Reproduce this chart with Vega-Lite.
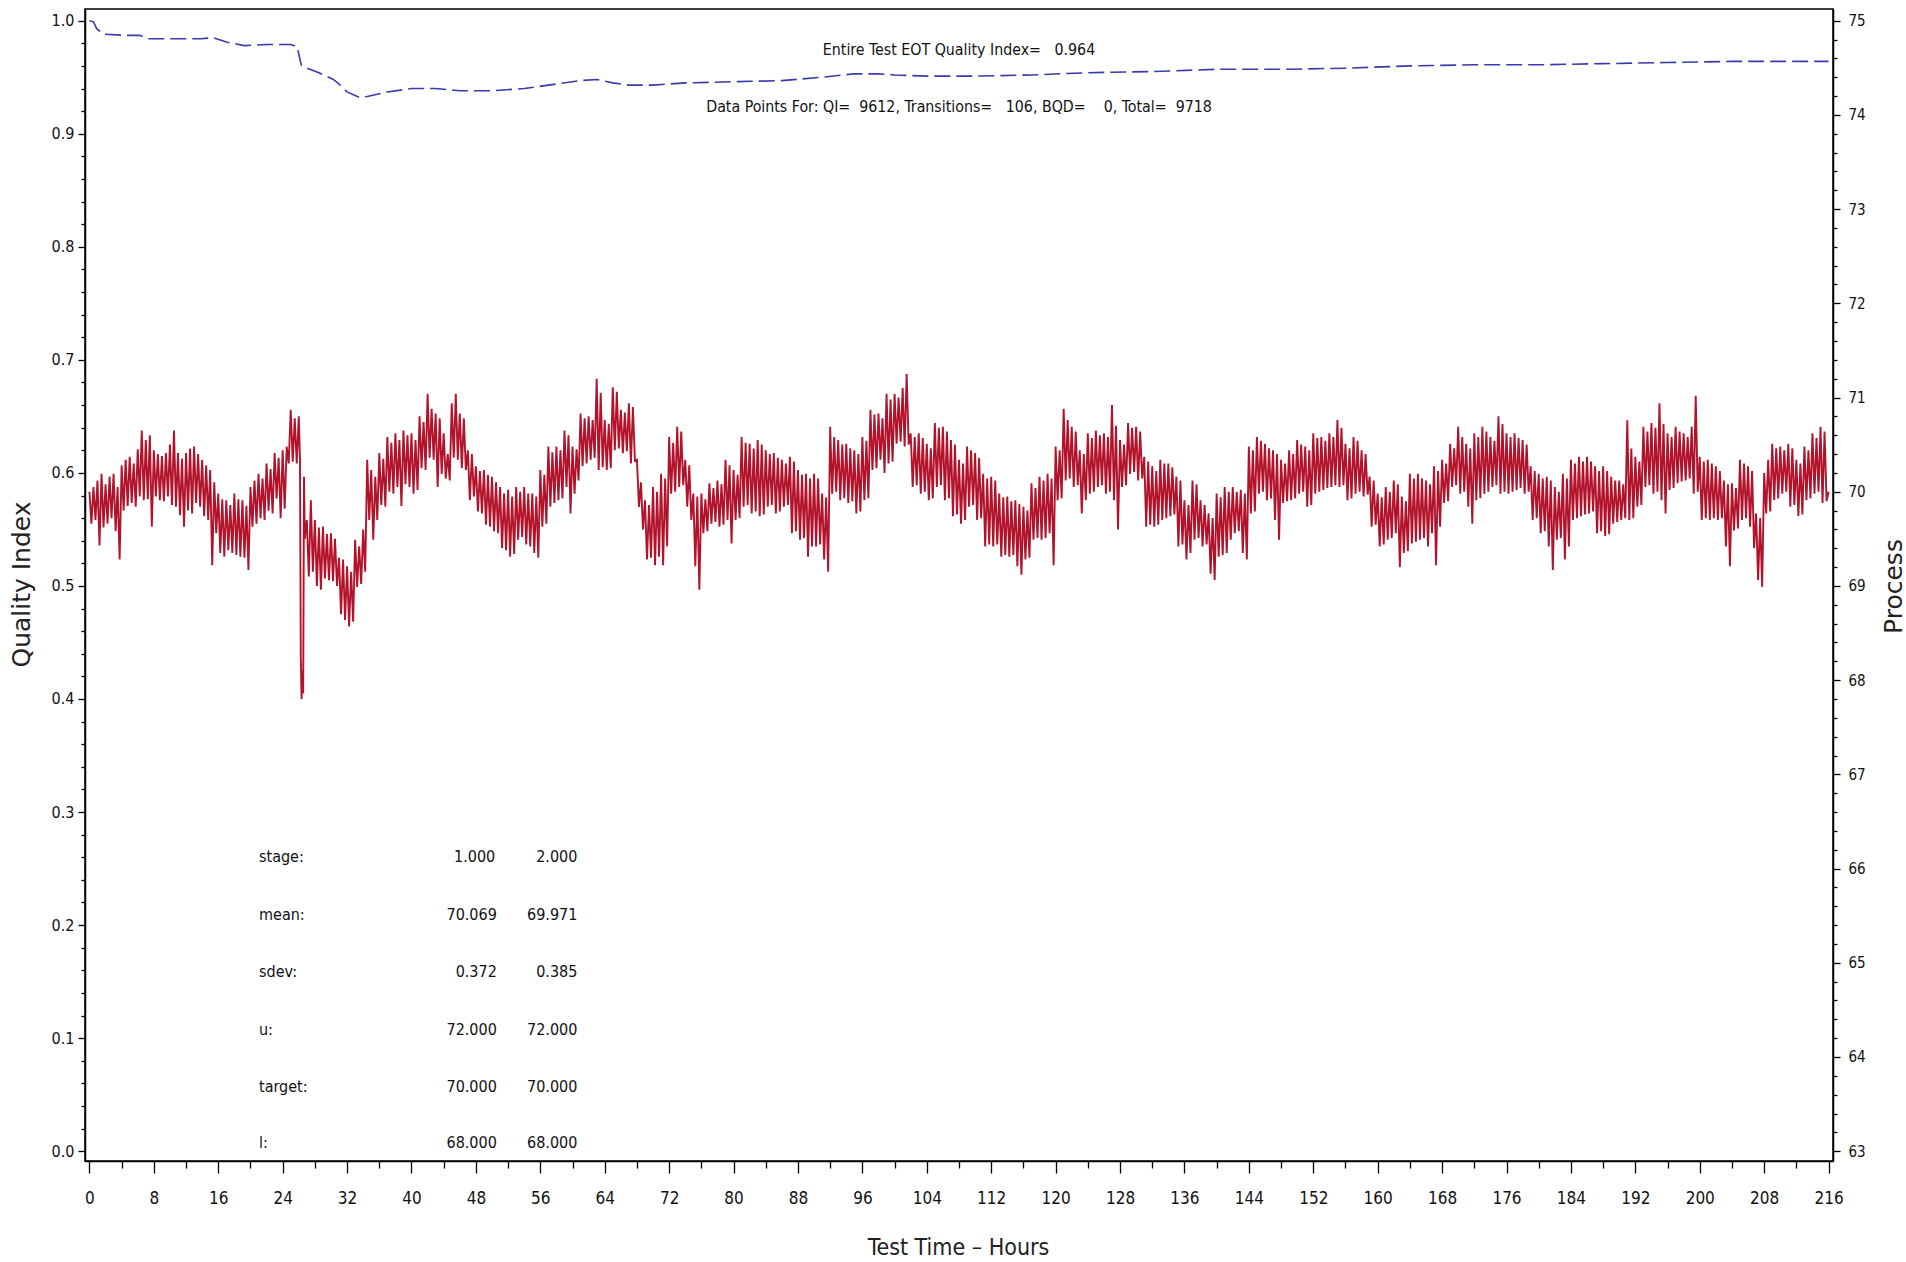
{
"$schema": "https://vega.github.io/schema/vega-lite/v6.json",
"width": 1748, "height": 1152,
"autosize": {"type": "none"},
"padding": {"left": 85, "top": 9, "right": 73, "bottom": 101},
"background": "#ffffff",
"config": {"view": {"stroke": "#000000", "strokeWidth": 1.5}, "axis": {"grid": false}},
"datasets": {
"qi": [{"t":0,"q":1.0},{"t":0.5,"q":0.999},{"t":0.9,"q":0.993},{"t":1.8,"q":0.988},{"t":4.7,"q":0.987},{"t":6.3,"q":0.987},{"t":7.2,"q":0.984},{"t":13.8,"q":0.984},{"t":15.4,"q":0.985},{"t":17.1,"q":0.981},{"t":19.2,"q":0.978},{"t":22.1,"q":0.979},{"t":25,"q":0.979},{"t":25.8,"q":0.977},{"t":26.3,"q":0.961},{"t":27,"q":0.958},{"t":28.5,"q":0.954},{"t":30.3,"q":0.948},{"t":31,"q":0.944},{"t":32,"q":0.937},{"t":33.6,"q":0.932},{"t":34.5,"q":0.933},{"t":37,"q":0.937},{"t":40,"q":0.94},{"t":43,"q":0.94},{"t":46,"q":0.938},{"t":50,"q":0.938},{"t":54,"q":0.94},{"t":58,"q":0.944},{"t":61,"q":0.947},{"t":63,"q":0.948},{"t":65,"q":0.945},{"t":67,"q":0.943},{"t":70,"q":0.943},{"t":74,"q":0.945},{"t":80,"q":0.946},{"t":86,"q":0.947},{"t":91,"q":0.95},{"t":95,"q":0.953},{"t":98,"q":0.953},{"t":100,"q":0.952},{"t":104,"q":0.951},{"t":110,"q":0.951},{"t":117,"q":0.952},{"t":124,"q":0.954},{"t":132,"q":0.955},{"t":140,"q":0.957},{"t":148,"q":0.957},{"t":156,"q":0.958},{"t":164,"q":0.96},{"t":172,"q":0.961},{"t":180,"q":0.961},{"t":188,"q":0.962},{"t":196,"q":0.963},{"t":204,"q":0.964},{"t":210,"q":0.964},{"t":216,"q":0.964}],
"hdr": [{"t":108,"q":0.974,"txt":"Entire Test EOT Quality Index=\u00a0\u00a0 0.964"},{"t":108,"q":0.9237,"txt":"Data Points For: QI=\u00a0 9612, Transitions=\u00a0\u00a0 106, BQD=\u00a0\u00a0\u00a0 0, Total=\u00a0 9718"}],
"lab": [{"t":21.06,"q":0.26,"txt":"stage:"},{"t":21.06,"q":0.209,"txt":"mean:"},{"t":21.06,"q":0.1585,"txt":"sdev:"},{"t":21.06,"q":0.107,"txt":"u:"},{"t":21.06,"q":0.0568,"txt":"target:"},{"t":21.06,"q":0.0073,"txt":"l:"}],
"num": [{"t":50.4,"q":0.26,"txt":"1.000"},{"t":60.6,"q":0.26,"txt":"2.000"},{"t":50.6,"q":0.209,"txt":"70.069"},{"t":60.6,"q":0.209,"txt":"69.971"},{"t":50.6,"q":0.1585,"txt":"0.372"},{"t":60.6,"q":0.1585,"txt":"0.385"},{"t":50.6,"q":0.107,"txt":"72.000"},{"t":60.6,"q":0.107,"txt":"72.000"},{"t":50.6,"q":0.0568,"txt":"70.000"},{"t":60.6,"q":0.0568,"txt":"70.000"},{"t":50.6,"q":0.0073,"txt":"68.000"},{"t":60.6,"q":0.0073,"txt":"68.000"}],
"proc": [
{"t":0,"v":70.00},{"t":0.25,"v":69.66},{"t":0.5,"v":70.05},{"t":0.75,"v":69.70},
{"t":1,"v":70.12},{"t":1.25,"v":69.43},{"t":1.5,"v":70.19},{"t":1.75,"v":69.62},
{"t":2,"v":70.08},{"t":2.25,"v":69.66},{"t":2.5,"v":70.16},{"t":2.75,"v":69.72},
{"t":3,"v":70.19},{"t":3.25,"v":69.58},{"t":3.5,"v":70.05},{"t":3.75,"v":69.28},
{"t":4,"v":70.28},{"t":4.25,"v":69.80},{"t":4.5,"v":70.34},{"t":4.75,"v":69.85},
{"t":5,"v":70.37},{"t":5.25,"v":69.88},{"t":5.5,"v":70.30},{"t":5.75,"v":69.84},
{"t":6,"v":70.45},{"t":6.25,"v":69.95},{"t":6.5,"v":70.65},{"t":6.75,"v":69.91},
{"t":7,"v":70.55},{"t":7.25,"v":69.92},{"t":7.5,"v":70.60},{"t":7.75,"v":69.63},
{"t":8,"v":70.44},{"t":8.25,"v":69.95},{"t":8.5,"v":70.40},{"t":8.75,"v":69.91},
{"t":9,"v":70.38},{"t":9.25,"v":69.90},{"t":9.5,"v":70.41},{"t":9.75,"v":69.95},
{"t":10,"v":70.50},{"t":10.25,"v":69.86},{"t":10.5,"v":70.65},{"t":10.75,"v":69.84},
{"t":11,"v":70.41},{"t":11.25,"v":69.75},{"t":11.5,"v":70.35},{"t":11.75,"v":69.63},
{"t":12,"v":70.41},{"t":12.25,"v":69.80},{"t":12.5,"v":70.46},{"t":12.75,"v":69.77},
{"t":13,"v":70.48},{"t":13.25,"v":69.88},{"t":13.5,"v":70.40},{"t":13.75,"v":69.84},
{"t":14,"v":70.34},{"t":14.25,"v":69.74},{"t":14.5,"v":70.28},{"t":14.75,"v":69.70},
{"t":15,"v":70.23},{"t":15.25,"v":69.22},{"t":15.5,"v":70.10},{"t":15.75,"v":69.56},
{"t":16,"v":69.98},{"t":16.25,"v":69.35},{"t":16.5,"v":69.92},{"t":16.75,"v":69.31},
{"t":17,"v":69.91},{"t":17.25,"v":69.38},{"t":17.5,"v":69.86},{"t":17.75,"v":69.35},
{"t":18,"v":69.98},{"t":18.25,"v":69.33},{"t":18.5,"v":69.92},{"t":18.75,"v":69.31},
{"t":19,"v":69.91},{"t":19.25,"v":69.30},{"t":19.5,"v":69.85},{"t":19.75,"v":69.17},
{"t":20,"v":70.05},{"t":20.25,"v":69.63},{"t":20.5,"v":70.12},{"t":20.75,"v":69.66},
{"t":21,"v":70.19},{"t":21.25,"v":69.72},{"t":21.5,"v":70.14},{"t":21.75,"v":69.70},
{"t":22,"v":70.30},{"t":22.25,"v":69.80},{"t":22.5,"v":70.24},{"t":22.75,"v":69.77},
{"t":23,"v":70.41},{"t":23.25,"v":69.93},{"t":23.5,"v":70.36},{"t":23.75,"v":69.72},
{"t":24,"v":70.44},{"t":24.25,"v":69.82},{"t":24.5,"v":70.48},{"t":24.75,"v":70.30},
{"t":25,"v":70.87},{"t":25.25,"v":70.32},{"t":25.5,"v":70.78},{"t":25.75,"v":70.30},
{"t":26,"v":70.80},{"t":26.15,"v":70.35},{"t":26.25,"v":68.25},{"t":26.35,"v":67.80},{"t":26.45,"v":68.10},{"t":26.55,"v":67.86},{"t":26.65,"v":70.16},{"t":26.75,"v":69.50},
{"t":27,"v":69.70},{"t":27.25,"v":69.10},{"t":27.5,"v":69.91},{"t":27.75,"v":69.15},
{"t":28,"v":69.70},{"t":28.25,"v":69.00},{"t":28.5,"v":69.62},{"t":28.75,"v":68.96},
{"t":29,"v":69.63},{"t":29.25,"v":69.08},{"t":29.5,"v":69.55},{"t":29.75,"v":69.06},
{"t":30,"v":69.56},{"t":30.25,"v":69.05},{"t":30.5,"v":69.50},{"t":30.75,"v":69.00},
{"t":31,"v":69.30},{"t":31.25,"v":68.70},{"t":31.5,"v":69.28},{"t":31.75,"v":68.64},
{"t":32,"v":69.21},{"t":32.25,"v":68.57},{"t":32.5,"v":69.15},{"t":32.75,"v":68.62},
{"t":33,"v":69.49},{"t":33.25,"v":68.99},{"t":33.5,"v":69.42},{"t":33.75,"v":69.02},
{"t":34,"v":69.60},{"t":34.25,"v":69.15},{"t":34.5,"v":70.34},{"t":34.75,"v":69.70},
{"t":35,"v":70.23},{"t":35.25,"v":69.49},{"t":35.5,"v":70.16},{"t":35.75,"v":69.70},
{"t":36,"v":70.41},{"t":36.25,"v":69.86},{"t":36.5,"v":70.35},{"t":36.75,"v":69.84},
{"t":37,"v":70.58},{"t":37.25,"v":70.00},{"t":37.5,"v":70.52},{"t":37.75,"v":69.98},
{"t":38,"v":70.62},{"t":38.25,"v":70.05},{"t":38.5,"v":70.55},{"t":38.75,"v":69.85},
{"t":39,"v":70.65},{"t":39.25,"v":70.08},{"t":39.5,"v":70.60},{"t":39.75,"v":70.05},
{"t":40,"v":70.62},{"t":40.25,"v":69.98},{"t":40.5,"v":70.55},{"t":40.75,"v":70.02},
{"t":41,"v":70.80},{"t":41.25,"v":70.25},{"t":41.5,"v":70.74},{"t":41.75,"v":70.23},
{"t":42,"v":71.04},{"t":42.25,"v":70.36},{"t":42.5,"v":70.88},{"t":42.75,"v":70.34},
{"t":43,"v":70.83},{"t":43.25,"v":70.05},{"t":43.5,"v":70.78},{"t":43.75,"v":70.19},
{"t":44,"v":70.62},{"t":44.25,"v":70.14},{"t":44.5,"v":70.40},{"t":44.75,"v":70.12},
{"t":45,"v":70.94},{"t":45.25,"v":70.36},{"t":45.5,"v":71.04},{"t":45.75,"v":70.34},
{"t":46,"v":70.83},{"t":46.25,"v":70.25},{"t":46.5,"v":70.78},{"t":46.75,"v":70.23},
{"t":47,"v":70.44},{"t":47.25,"v":69.91},{"t":47.5,"v":70.40},{"t":47.75,"v":69.95},
{"t":48,"v":70.27},{"t":48.25,"v":69.79},{"t":48.5,"v":70.22},{"t":48.75,"v":69.77},
{"t":49,"v":70.23},{"t":49.25,"v":69.65},{"t":49.5,"v":70.18},{"t":49.75,"v":69.63},
{"t":50,"v":70.16},{"t":50.25,"v":69.58},{"t":50.5,"v":70.10},{"t":50.75,"v":69.56},
{"t":51,"v":70.05},{"t":51.25,"v":69.40},{"t":51.5,"v":69.98},{"t":51.75,"v":69.38},
{"t":52,"v":70.02},{"t":52.25,"v":69.31},{"t":52.5,"v":69.95},{"t":52.75,"v":69.34},
{"t":53,"v":70.05},{"t":53.25,"v":69.49},{"t":53.5,"v":70.00},{"t":53.75,"v":69.52},
{"t":54,"v":70.05},{"t":54.25,"v":69.44},{"t":54.5,"v":69.98},{"t":54.75,"v":69.42},
{"t":55,"v":69.98},{"t":55.25,"v":69.35},{"t":55.5,"v":69.95},{"t":55.75,"v":69.30},
{"t":56,"v":70.23},{"t":56.25,"v":69.63},{"t":56.5,"v":70.18},{"t":56.75,"v":69.66},
{"t":57,"v":70.48},{"t":57.25,"v":69.84},{"t":57.5,"v":70.42},{"t":57.75,"v":69.88},
{"t":58,"v":70.48},{"t":58.25,"v":69.91},{"t":58.5,"v":70.44},{"t":58.75,"v":69.93},
{"t":59,"v":70.65},{"t":59.25,"v":70.05},{"t":59.5,"v":70.60},{"t":59.75,"v":69.77},
{"t":60,"v":70.48},{"t":60.25,"v":69.98},{"t":60.5,"v":70.45},{"t":60.75,"v":70.12},
{"t":61,"v":70.83},{"t":61.25,"v":70.27},{"t":61.5,"v":70.78},{"t":61.75,"v":70.30},
{"t":62,"v":70.80},{"t":62.25,"v":70.34},{"t":62.5,"v":70.76},{"t":62.75,"v":70.36},
{"t":63,"v":71.20},{"t":63.25,"v":70.23},{"t":63.5,"v":71.05},{"t":63.75,"v":70.26},
{"t":64,"v":70.76},{"t":64.25,"v":70.23},{"t":64.5,"v":70.72},{"t":64.75,"v":70.25},
{"t":65,"v":71.11},{"t":65.25,"v":70.44},{"t":65.5,"v":71.06},{"t":65.75,"v":70.46},
{"t":66,"v":70.87},{"t":66.25,"v":70.41},{"t":66.5,"v":70.84},{"t":66.75,"v":70.43},
{"t":67,"v":70.94},{"t":67.25,"v":70.30},{"t":67.5,"v":70.90},{"t":67.75,"v":70.33},
{"t":68,"v":70.34},{"t":68.25,"v":69.84},{"t":68.5,"v":70.10},{"t":68.75,"v":69.60},
{"t":69,"v":69.91},{"t":69.25,"v":69.28},{"t":69.5,"v":69.86},{"t":69.75,"v":69.30},
{"t":70,"v":70.05},{"t":70.25,"v":69.22},{"t":70.5,"v":70.00},{"t":70.75,"v":69.31},
{"t":71,"v":70.19},{"t":71.25,"v":69.22},{"t":71.5,"v":70.14},{"t":71.75,"v":69.42},
{"t":72,"v":70.58},{"t":72.25,"v":69.98},{"t":72.5,"v":70.52},{"t":72.75,"v":70.00},
{"t":73,"v":70.69},{"t":73.25,"v":70.05},{"t":73.5,"v":70.64},{"t":73.75,"v":70.07},
{"t":74,"v":70.34},{"t":74.25,"v":69.84},{"t":74.5,"v":70.28},{"t":74.75,"v":69.70},
{"t":75,"v":69.98},{"t":75.25,"v":69.21},{"t":75.5,"v":69.95},{"t":75.75,"v":68.96},
{"t":76,"v":69.98},{"t":76.25,"v":69.56},{"t":76.5,"v":69.92},{"t":76.75,"v":69.58},
{"t":77,"v":70.09},{"t":77.25,"v":69.66},{"t":77.5,"v":70.04},{"t":77.75,"v":69.68},
{"t":78,"v":70.12},{"t":78.25,"v":69.63},{"t":78.5,"v":70.08},{"t":78.75,"v":69.65},
{"t":79,"v":70.34},{"t":79.25,"v":69.70},{"t":79.5,"v":70.28},{"t":79.75,"v":69.45},
{"t":80,"v":70.23},{"t":80.25,"v":69.70},{"t":80.5,"v":70.18},{"t":80.75,"v":69.72},
{"t":81,"v":70.58},{"t":81.25,"v":69.84},{"t":81.5,"v":70.52},{"t":81.75,"v":69.86},
{"t":82,"v":70.51},{"t":82.25,"v":69.77},{"t":82.5,"v":70.46},{"t":82.75,"v":69.79},
{"t":83,"v":70.55},{"t":83.25,"v":69.74},{"t":83.5,"v":70.50},{"t":83.75,"v":69.76},
{"t":84,"v":70.44},{"t":84.25,"v":69.84},{"t":84.5,"v":70.40},{"t":84.75,"v":69.86},
{"t":85,"v":70.41},{"t":85.25,"v":69.77},{"t":85.5,"v":70.36},{"t":85.75,"v":69.79},
{"t":86,"v":70.34},{"t":86.25,"v":69.84},{"t":86.5,"v":70.30},{"t":86.75,"v":69.86},
{"t":87,"v":70.37},{"t":87.25,"v":69.56},{"t":87.5,"v":70.32},{"t":87.75,"v":69.58},
{"t":88,"v":70.23},{"t":88.25,"v":69.49},{"t":88.5,"v":70.18},{"t":88.75,"v":69.51},
{"t":89,"v":70.19},{"t":89.25,"v":69.31},{"t":89.5,"v":70.14},{"t":89.75,"v":69.42},
{"t":90,"v":70.19},{"t":90.25,"v":69.42},{"t":90.5,"v":70.14},{"t":90.75,"v":69.44},
{"t":91,"v":69.98},{"t":91.25,"v":69.28},{"t":91.5,"v":69.94},{"t":91.75,"v":69.15},
{"t":92,"v":70.69},{"t":92.25,"v":69.98},{"t":92.5,"v":70.58},{"t":92.75,"v":70.00},
{"t":93,"v":70.55},{"t":93.25,"v":69.91},{"t":93.5,"v":70.50},{"t":93.75,"v":69.93},
{"t":94,"v":70.51},{"t":94.25,"v":69.88},{"t":94.5,"v":70.46},{"t":94.75,"v":69.90},
{"t":95,"v":70.44},{"t":95.25,"v":69.77},{"t":95.5,"v":70.40},{"t":95.75,"v":69.79},
{"t":96,"v":70.58},{"t":96.25,"v":69.91},{"t":96.5,"v":70.54},{"t":96.75,"v":69.93},
{"t":97,"v":70.87},{"t":97.25,"v":70.23},{"t":97.5,"v":70.82},{"t":97.75,"v":70.25},
{"t":98,"v":70.83},{"t":98.25,"v":70.34},{"t":98.5,"v":70.78},{"t":98.75,"v":70.20},
{"t":99,"v":71.04},{"t":99.25,"v":70.30},{"t":99.5,"v":70.98},{"t":99.75,"v":70.32},
{"t":100,"v":71.04},{"t":100.25,"v":70.51},{"t":100.5,"v":71.00},{"t":100.75,"v":70.53},
{"t":101,"v":71.10},{"t":101.25,"v":70.48},{"t":101.5,"v":71.25},{"t":101.75,"v":70.50},
{"t":102,"v":70.62},{"t":102.25,"v":70.05},{"t":102.5,"v":70.58},{"t":102.75,"v":70.07},
{"t":103,"v":70.62},{"t":103.25,"v":69.98},{"t":103.5,"v":70.57},{"t":103.75,"v":70.00},
{"t":104,"v":70.51},{"t":104.25,"v":69.91},{"t":104.5,"v":70.46},{"t":104.75,"v":69.93},
{"t":105,"v":70.73},{"t":105.25,"v":70.05},{"t":105.5,"v":70.68},{"t":105.75,"v":70.07},
{"t":106,"v":70.69},{"t":106.25,"v":69.91},{"t":106.5,"v":70.64},{"t":106.75,"v":69.93},
{"t":107,"v":70.55},{"t":107.25,"v":69.74},{"t":107.5,"v":70.50},{"t":107.75,"v":69.76},
{"t":108,"v":70.34},{"t":108.25,"v":69.66},{"t":108.5,"v":70.30},{"t":108.75,"v":69.70},
{"t":109,"v":70.48},{"t":109.25,"v":69.84},{"t":109.5,"v":70.44},{"t":109.75,"v":69.86},
{"t":110,"v":70.41},{"t":110.25,"v":69.70},{"t":110.5,"v":70.36},{"t":110.75,"v":69.72},
{"t":111,"v":70.19},{"t":111.25,"v":69.42},{"t":111.5,"v":70.14},{"t":111.75,"v":69.44},
{"t":112,"v":70.16},{"t":112.25,"v":69.42},{"t":112.5,"v":70.12},{"t":112.75,"v":69.44},
{"t":113,"v":69.98},{"t":113.25,"v":69.31},{"t":113.5,"v":69.94},{"t":113.75,"v":69.33},
{"t":114,"v":69.95},{"t":114.25,"v":69.31},{"t":114.5,"v":69.90},{"t":114.75,"v":69.33},
{"t":115,"v":69.91},{"t":115.25,"v":69.21},{"t":115.5,"v":69.87},{"t":115.75,"v":69.12},
{"t":116,"v":69.84},{"t":116.25,"v":69.28},{"t":116.5,"v":69.80},{"t":116.75,"v":69.30},
{"t":117,"v":70.09},{"t":117.25,"v":69.49},{"t":117.5,"v":70.04},{"t":117.75,"v":69.51},
{"t":118,"v":70.16},{"t":118.25,"v":69.49},{"t":118.5,"v":70.12},{"t":118.75,"v":69.51},
{"t":119,"v":70.19},{"t":119.25,"v":69.56},{"t":119.5,"v":70.14},{"t":119.75,"v":69.22},
{"t":120,"v":70.48},{"t":120.25,"v":69.91},{"t":120.5,"v":70.44},{"t":120.75,"v":69.93},
{"t":121,"v":70.88},{"t":121.25,"v":70.12},{"t":121.5,"v":70.76},{"t":121.75,"v":70.14},
{"t":122,"v":70.69},{"t":122.25,"v":70.05},{"t":122.5,"v":70.64},{"t":122.75,"v":70.07},
{"t":123,"v":70.44},{"t":123.25,"v":69.77},{"t":123.5,"v":70.40},{"t":123.75,"v":69.91},
{"t":124,"v":70.62},{"t":124.25,"v":69.98},{"t":124.5,"v":70.57},{"t":124.75,"v":70.00},
{"t":125,"v":70.65},{"t":125.25,"v":70.05},{"t":125.5,"v":70.60},{"t":125.75,"v":70.07},
{"t":126,"v":70.62},{"t":126.25,"v":69.98},{"t":126.5,"v":70.58},{"t":126.75,"v":70.00},
{"t":127,"v":70.92},{"t":127.25,"v":69.91},{"t":127.5,"v":70.70},{"t":127.75,"v":69.60},
{"t":128,"v":70.55},{"t":128.25,"v":70.05},{"t":128.5,"v":70.50},{"t":128.75,"v":70.07},
{"t":129,"v":70.73},{"t":129.25,"v":70.19},{"t":129.5,"v":70.68},{"t":129.75,"v":70.21},
{"t":130,"v":70.69},{"t":130.25,"v":70.12},{"t":130.5,"v":70.64},{"t":130.75,"v":70.14},
{"t":131,"v":70.37},{"t":131.25,"v":69.63},{"t":131.5,"v":70.32},{"t":131.75,"v":69.65},
{"t":132,"v":70.27},{"t":132.25,"v":69.63},{"t":132.5,"v":70.22},{"t":132.75,"v":69.65},
{"t":133,"v":70.34},{"t":133.25,"v":69.70},{"t":133.5,"v":70.30},{"t":133.75,"v":69.72},
{"t":134,"v":70.30},{"t":134.25,"v":69.74},{"t":134.5,"v":70.26},{"t":134.75,"v":69.76},
{"t":135,"v":70.16},{"t":135.25,"v":69.42},{"t":135.5,"v":70.12},{"t":135.75,"v":69.44},
{"t":136,"v":69.91},{"t":136.25,"v":69.28},{"t":136.5,"v":69.86},{"t":136.75,"v":69.35},
{"t":137,"v":70.12},{"t":137.25,"v":69.49},{"t":137.5,"v":70.08},{"t":137.75,"v":69.51},
{"t":138,"v":69.91},{"t":138.25,"v":69.42},{"t":138.5,"v":69.86},{"t":138.75,"v":69.44},
{"t":139,"v":69.77},{"t":139.25,"v":69.13},{"t":139.5,"v":69.72},{"t":139.75,"v":69.06},
{"t":140,"v":69.98},{"t":140.25,"v":69.31},{"t":140.5,"v":69.94},{"t":140.75,"v":69.33},
{"t":141,"v":70.05},{"t":141.25,"v":69.35},{"t":141.5,"v":70.00},{"t":141.75,"v":69.49},
{"t":142,"v":70.05},{"t":142.25,"v":69.56},{"t":142.5,"v":70.00},{"t":142.75,"v":69.58},
{"t":143,"v":70.02},{"t":143.25,"v":69.35},{"t":143.5,"v":69.98},{"t":143.75,"v":69.28},
{"t":144,"v":70.48},{"t":144.25,"v":69.77},{"t":144.5,"v":70.44},{"t":144.75,"v":69.79},
{"t":145,"v":70.58},{"t":145.25,"v":69.98},{"t":145.5,"v":70.54},{"t":145.75,"v":70.00},
{"t":146,"v":70.51},{"t":146.25,"v":69.91},{"t":146.5,"v":70.46},{"t":146.75,"v":69.93},
{"t":147,"v":70.44},{"t":147.25,"v":69.70},{"t":147.5,"v":70.40},{"t":147.75,"v":69.49},
{"t":148,"v":70.34},{"t":148.25,"v":69.88},{"t":148.5,"v":70.30},{"t":148.75,"v":69.90},
{"t":149,"v":70.44},{"t":149.25,"v":69.91},{"t":149.5,"v":70.40},{"t":149.75,"v":69.93},
{"t":150,"v":70.55},{"t":150.25,"v":69.98},{"t":150.5,"v":70.50},{"t":150.75,"v":70.00},
{"t":151,"v":70.48},{"t":151.25,"v":69.84},{"t":151.5,"v":70.44},{"t":151.75,"v":69.86},
{"t":152,"v":70.62},{"t":152.25,"v":69.98},{"t":152.5,"v":70.57},{"t":152.75,"v":70.00},
{"t":153,"v":70.58},{"t":153.25,"v":70.02},{"t":153.5,"v":70.54},{"t":153.75,"v":70.04},
{"t":154,"v":70.62},{"t":154.25,"v":70.05},{"t":154.5,"v":70.58},{"t":154.75,"v":70.07},
{"t":155,"v":70.76},{"t":155.25,"v":70.05},{"t":155.5,"v":70.68},{"t":155.75,"v":70.07},
{"t":156,"v":70.51},{"t":156.25,"v":69.91},{"t":156.5,"v":70.46},{"t":156.75,"v":69.93},
{"t":157,"v":70.58},{"t":157.25,"v":69.98},{"t":157.5,"v":70.54},{"t":157.75,"v":70.00},
{"t":158,"v":70.44},{"t":158.25,"v":69.95},{"t":158.5,"v":70.40},{"t":158.75,"v":69.97},
{"t":159,"v":70.16},{"t":159.25,"v":69.63},{"t":159.5,"v":70.12},{"t":159.75,"v":69.65},
{"t":160,"v":69.98},{"t":160.25,"v":69.42},{"t":160.5,"v":69.94},{"t":160.75,"v":69.44},
{"t":161,"v":70.05},{"t":161.25,"v":69.49},{"t":161.5,"v":70.00},{"t":161.75,"v":69.51},
{"t":162,"v":70.12},{"t":162.25,"v":69.56},{"t":162.5,"v":70.08},{"t":162.75,"v":69.20},
{"t":163,"v":69.95},{"t":163.25,"v":69.35},{"t":163.5,"v":69.90},{"t":163.75,"v":69.37},
{"t":164,"v":70.19},{"t":164.25,"v":69.45},{"t":164.5,"v":70.14},{"t":164.75,"v":69.47},
{"t":165,"v":70.19},{"t":165.25,"v":69.49},{"t":165.5,"v":70.14},{"t":165.75,"v":69.51},
{"t":166,"v":70.12},{"t":166.25,"v":69.42},{"t":166.5,"v":70.08},{"t":166.75,"v":69.56},
{"t":167,"v":70.27},{"t":167.25,"v":69.22},{"t":167.5,"v":70.22},{"t":167.75,"v":69.63},
{"t":168,"v":70.34},{"t":168.25,"v":69.88},{"t":168.5,"v":70.30},{"t":168.75,"v":69.90},
{"t":169,"v":70.51},{"t":169.25,"v":70.05},{"t":169.5,"v":70.46},{"t":169.75,"v":70.07},
{"t":170,"v":70.69},{"t":170.25,"v":69.98},{"t":170.5,"v":70.58},{"t":170.75,"v":70.00},
{"t":171,"v":70.51},{"t":171.25,"v":69.84},{"t":171.5,"v":70.46},{"t":171.75,"v":69.66},
{"t":172,"v":70.62},{"t":172.25,"v":69.91},{"t":172.5,"v":70.58},{"t":172.75,"v":69.93},
{"t":173,"v":70.69},{"t":173.25,"v":69.98},{"t":173.5,"v":70.64},{"t":173.75,"v":70.00},
{"t":174,"v":70.58},{"t":174.25,"v":70.05},{"t":174.5,"v":70.54},{"t":174.75,"v":70.07},
{"t":175,"v":70.80},{"t":175.25,"v":69.98},{"t":175.5,"v":70.72},{"t":175.75,"v":70.00},
{"t":176,"v":70.62},{"t":176.25,"v":69.98},{"t":176.5,"v":70.58},{"t":176.75,"v":70.00},
{"t":177,"v":70.62},{"t":177.25,"v":70.02},{"t":177.5,"v":70.57},{"t":177.75,"v":70.04},
{"t":178,"v":70.55},{"t":178.25,"v":69.98},{"t":178.5,"v":70.50},{"t":178.75,"v":70.00},
{"t":179,"v":70.27},{"t":179.25,"v":69.70},{"t":179.5,"v":70.22},{"t":179.75,"v":69.72},
{"t":180,"v":70.19},{"t":180.25,"v":69.56},{"t":180.5,"v":70.14},{"t":180.75,"v":69.58},
{"t":181,"v":70.16},{"t":181.25,"v":69.42},{"t":181.5,"v":70.12},{"t":181.75,"v":69.17},
{"t":182,"v":70.05},{"t":182.25,"v":69.49},{"t":182.5,"v":70.00},{"t":182.75,"v":69.51},
{"t":183,"v":70.19},{"t":183.25,"v":69.28},{"t":183.5,"v":70.14},{"t":183.75,"v":69.42},
{"t":184,"v":70.34},{"t":184.25,"v":69.70},{"t":184.5,"v":70.30},{"t":184.75,"v":69.72},
{"t":185,"v":70.37},{"t":185.25,"v":69.74},{"t":185.5,"v":70.32},{"t":185.75,"v":69.76},
{"t":186,"v":70.37},{"t":186.25,"v":69.77},{"t":186.5,"v":70.32},{"t":186.75,"v":69.79},
{"t":187,"v":70.27},{"t":187.25,"v":69.56},{"t":187.5,"v":70.22},{"t":187.75,"v":69.58},
{"t":188,"v":70.27},{"t":188.25,"v":69.53},{"t":188.5,"v":70.22},{"t":188.75,"v":69.55},
{"t":189,"v":70.16},{"t":189.25,"v":69.66},{"t":189.5,"v":70.12},{"t":189.75,"v":69.68},
{"t":190,"v":70.12},{"t":190.25,"v":69.70},{"t":190.5,"v":70.08},{"t":190.75,"v":69.72},
{"t":191,"v":70.76},{"t":191.25,"v":69.70},{"t":191.5,"v":70.46},{"t":191.75,"v":69.72},
{"t":192,"v":70.37},{"t":192.25,"v":69.84},{"t":192.5,"v":70.32},{"t":192.75,"v":69.86},
{"t":193,"v":70.69},{"t":193.25,"v":70.05},{"t":193.5,"v":70.64},{"t":193.75,"v":70.07},
{"t":194,"v":70.73},{"t":194.25,"v":69.98},{"t":194.5,"v":70.68},{"t":194.75,"v":70.00},
{"t":195,"v":70.94},{"t":195.25,"v":69.91},{"t":195.5,"v":70.72},{"t":195.75,"v":69.77},
{"t":196,"v":70.62},{"t":196.25,"v":70.02},{"t":196.5,"v":70.58},{"t":196.75,"v":70.04},
{"t":197,"v":70.69},{"t":197.25,"v":70.09},{"t":197.5,"v":70.64},{"t":197.75,"v":70.11},
{"t":198,"v":70.62},{"t":198.25,"v":70.12},{"t":198.5,"v":70.58},{"t":198.75,"v":70.14},
{"t":199,"v":70.69},{"t":199.25,"v":69.98},{"t":199.5,"v":71.02},{"t":199.75,"v":70.00},
{"t":200,"v":70.37},{"t":200.25,"v":69.70},{"t":200.5,"v":70.32},{"t":200.75,"v":69.72},
{"t":201,"v":70.34},{"t":201.25,"v":69.70},{"t":201.5,"v":70.30},{"t":201.75,"v":69.72},
{"t":202,"v":70.27},{"t":202.25,"v":69.70},{"t":202.5,"v":70.22},{"t":202.75,"v":69.72},
{"t":203,"v":70.12},{"t":203.25,"v":69.42},{"t":203.5,"v":70.08},{"t":203.75,"v":69.21},
{"t":204,"v":70.09},{"t":204.25,"v":69.59},{"t":204.5,"v":70.04},{"t":204.75,"v":69.61},
{"t":205,"v":70.34},{"t":205.25,"v":69.70},{"t":205.5,"v":70.30},{"t":205.75,"v":69.72},
{"t":206,"v":70.27},{"t":206.25,"v":69.63},{"t":206.5,"v":70.22},{"t":206.75,"v":69.40},
{"t":207,"v":69.77},{"t":207.25,"v":69.06},{"t":207.5,"v":69.72},{"t":207.75,"v":68.99},
{"t":208,"v":70.20},{"t":208.25,"v":69.77},{"t":208.5,"v":70.34},{"t":208.75,"v":69.79},
{"t":209,"v":70.51},{"t":209.25,"v":69.91},{"t":209.5,"v":70.46},{"t":209.75,"v":69.93},
{"t":210,"v":70.48},{"t":210.25,"v":69.98},{"t":210.5,"v":70.44},{"t":210.75,"v":70.00},
{"t":211,"v":70.51},{"t":211.25,"v":69.84},{"t":211.5,"v":70.46},{"t":211.75,"v":69.86},
{"t":212,"v":70.34},{"t":212.25,"v":69.74},{"t":212.5,"v":70.30},{"t":212.75,"v":69.76},
{"t":213,"v":70.48},{"t":213.25,"v":69.91},{"t":213.5,"v":70.44},{"t":213.75,"v":69.93},
{"t":214,"v":70.62},{"t":214.25,"v":69.98},{"t":214.5,"v":70.57},{"t":214.75,"v":70.00},
{"t":215,"v":70.69},{"t":215.25,"v":69.88},{"t":215.5,"v":70.64},{"t":215.75,"v":69.90},
{"t":216,"v":70.00}
]
},
"encoding": {
"x": {"field": "t", "type": "quantitative", "scale": {"domain": [-0.55, 216.55], "nice": false, "zero": false},
"axis": {"orient": "bottom", "values": [0,4,8,12,16,20,24,28,32,36,40,44,48,52,56,60,64,68,72,76,80,84,88,92,96,100,104,108,112,116,120,124,128,132,136,140,144,148,152,156,160,164,168,172,176,180,184,188,192,196,200,204,208,212,216],
"labelExpr": "datum.value % 8 === 0 ? datum.label : ''",
"tickSize": {"condition": {"test": "datum.value % 8 === 0", "value": 12}, "value": 7},
"tickColor": "#000000", "tickWidth": 1.3, "domainColor": "#000000", "domainWidth": 1.5,
"labelFont": "Liberation Sans Narrow, Arial Narrow, DejaVu Sans Condensed, sans-serif", "labelFontSize": 17, "labelColor": "#111111", "labelPadding": 17, "labelFlush": false, "labelOverlap": false, "grid": false,
"title": "Test Time – Hours", "titleFont": "Liberation Sans Narrow, Arial Narrow, DejaVu Sans Condensed, sans-serif", "titleFontSize": 23, "titleFontWeight": "normal", "titleColor": "#222222", "titleX": 873, "titleY": 86, "titleAlign": "center", "titleBaseline": "middle"}}
},
"layer": [
{
"encoding": {
"y": {"field": "q", "type": "quantitative", "scale": {"domain": [-0.00867, 1.01035], "nice": false, "zero": false},
"axis": {"orient": "left", "values": [0,0.02,0.04,0.06,0.08,0.1,0.12,0.14,0.16,0.18,0.2,0.22,0.24,0.26,0.28,0.3,0.32,0.34,0.36,0.38,0.4,0.42,0.44,0.46,0.48,0.5,0.52,0.54,0.56,0.58,0.6,0.62,0.64,0.66,0.68,0.7,0.72,0.74,0.76,0.78,0.8,0.82,0.84,0.86,0.88,0.9,0.92,0.94,0.96,0.98,1],
"labelExpr": "abs(datum.value*10-round(datum.value*10)) < 0.001 ? format(datum.value, '.1f') : ''",
"tickSize": {"condition": {"test": "abs(datum.value*10-round(datum.value*10)) < 0.001", "value": 7}, "value": 4},
"tickColor": "#000000", "tickWidth": 1.3, "domainColor": "#000000", "domainWidth": 1.5,
"labelFont": "Liberation Sans Narrow, Arial Narrow, DejaVu Sans Condensed, sans-serif", "labelFontSize": 16, "labelColor": "#111111", "labelPadding": 4, "labelFlush": false, "labelOverlap": false, "grid": false,
"title": "Quality Index", "titleFont": "DejaVu Sans", "titleFontSize": 25, "titleFontWeight": "normal", "titleColor": "#222222", "titleAngle": 270, "titleX": -64, "titleY": 575, "titleAlign": "center", "titleBaseline": "middle"}}
},
"layer": [
{
"data": {"name": "qi"},
"mark": {"type": "line", "color": "#3a3aae", "strokeWidth": 1.6, "strokeDash": [16, 6]}
},
{
"data": {"name": "hdr"},
"mark": {"type": "text", "align": "center", "baseline": "middle", "font": "Liberation Sans Narrow, Arial Narrow, DejaVu Sans Condensed, sans-serif", "fontSize": 15.8, "color": "#111111"},
"encoding": {"text": {"field": "txt"}}
},
{
"data": {"name": "lab"},
"mark": {"type": "text", "align": "left", "baseline": "middle", "font": "Liberation Sans Narrow, Arial Narrow, DejaVu Sans Condensed, sans-serif", "fontSize": 16, "color": "#111111"},
"encoding": {"text": {"field": "txt"}}
},
{
"data": {"name": "num"},
"mark": {"type": "text", "align": "right", "baseline": "middle", "font": "Liberation Sans Narrow, Arial Narrow, DejaVu Sans Condensed, sans-serif", "fontSize": 16, "color": "#111111"},
"encoding": {"text": {"field": "txt"}}
}
]
},
{
"data": {"name": "proc"},
"mark": {"type": "line", "color": "#b2132b", "strokeWidth": 1.9},
"encoding": {
"y": {"field": "v", "type": "quantitative", "scale": {"domain": [62.896, 75.1242], "nice": false, "zero": false},
"axis": {"orient": "right", "values": [63,63.2,63.4,63.6,63.8,64,64.2,64.4,64.6,64.8,65,65.2,65.4,65.6,65.8,66,66.2,66.4,66.6,66.8,67,67.2,67.4,67.6,67.8,68,68.2,68.4,68.6,68.8,69,69.2,69.4,69.6,69.8,70,70.2,70.4,70.6,70.8,71,71.2,71.4,71.6,71.8,72,72.2,72.4,72.6,72.8,73,73.2,73.4,73.6,73.8,74,74.2,74.4,74.6,74.8,75],
"labelExpr": "abs(datum.value-round(datum.value)) < 0.001 ? format(datum.value, 'd') : ''",
"tickSize": {"condition": {"test": "abs(datum.value-round(datum.value)) < 0.001", "value": 7}, "value": 4},
"tickColor": "#000000", "tickWidth": 1.3, "domainColor": "#000000", "domainWidth": 1.5,
"labelFont": "Liberation Sans Narrow, Arial Narrow, DejaVu Sans Condensed, sans-serif", "labelFontSize": 15, "labelColor": "#111111", "labelPadding": 8, "labelFlush": false, "labelOverlap": false, "grid": false,
"title": "Process", "titleFont": "DejaVu Sans", "titleFontSize": 25, "titleFontWeight": "normal", "titleColor": "#222222", "titleAngle": 270, "titleX": 60, "titleY": 577, "titleAlign": "center", "titleBaseline": "middle"}}
}
}
],
"resolve": {"scale": {"y": "independent"}}
}
